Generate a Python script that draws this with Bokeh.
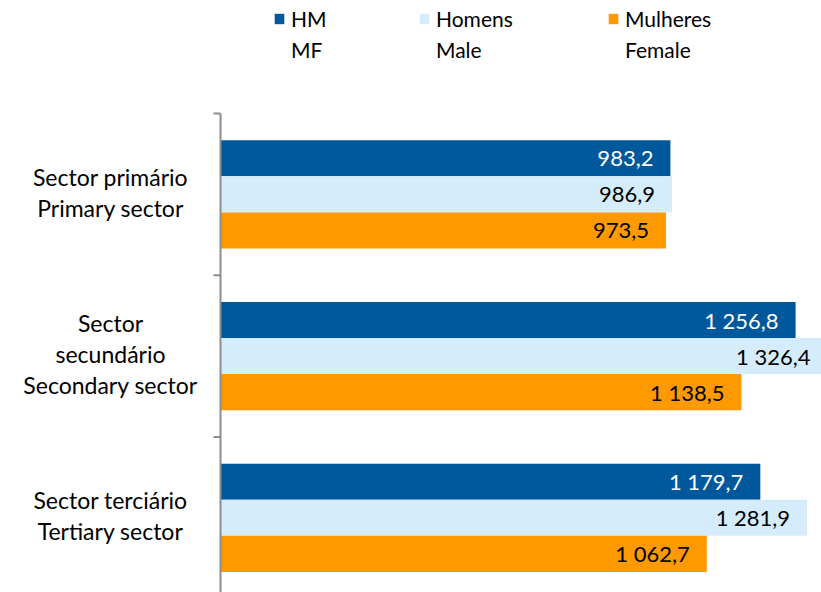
import numpy as np
from bokeh.plotting import figure
from bokeh.models import Range1d, Legend, LegendItem, ColumnDataSource
from bokeh.core.properties import value
from bokeh.embed import file_html
from bokeh.resources import INLINE

# ---- data ----
sectors = ["Sector primário\nPrimary sector",
           "Sector\nsecundário\nSecondary sector",
           "Sector terciário\nTertiary sector"]
series_pt = ["HM", "Homens", "Mulheres"]
series_en = ["MF", "Male", "Female"]
hm = [983.2, 1256.8, 1179.7]
homens = [986.9, 1326.4, 1281.9]
mulheres = [973.5, 1138.5, 1062.7]
series_values = [hm, homens, mulheres]
colors = ["#00589C", "#D5ECFC", "#FF9900"]
label_colors = ["#FFFFFF", "#000000", "#000000"]

FONT = "Lato"
BAR_H = 0.223
AXIS_COLOR = "#8C8C8C"
LEGEND_X = [273, 418, 607]   # screen position of each legend entry


def fmt(v):
    return f"{v:,.1f}".replace(",", " ").replace(".", ",")


W, H = 821, 592
p = figure(width=W, height=H, output_backend="svg", toolbar_location=None,
           x_range=Range1d(-480.8, 1313.4), y_range=Range1d(2.962, -0.699),
           x_axis_location=None, y_axis_location=None,
           min_border_left=0, min_border_right=0,
           min_border_top=0, min_border_bottom=0, outline_line_color=None,
           background_fill_color="white", border_fill_color="white")
p.xgrid.visible = False
p.ygrid.visible = False

n = len(sectors)
centers = [i + 0.5 for i in range(n)]
bounds = list(range(n + 1))

renderers = []
for j, (vals, col, lcol) in enumerate(zip(series_values, colors, label_colors)):
    ys = [c + (j - 1) * BAR_H for c in centers]
    src = ColumnDataSource(dict(y=ys, v=vals, t=[fmt(v) for v in vals]))
    r = p.hbar(y="y", left=0, right="v", height=BAR_H, source=src,
               fill_color=col, line_color=None)
    renderers.append(r)
    p.text(x="v", y="y", text="t", source=src, x_offset=-17,
           text_align="right", text_baseline="middle",
           text_font=value(FONT), text_font_size="22px", text_color=lcol)

# category axis: line at value 0, boundary ticks pointing left
p.segment(x0=[0], y0=[bounds[0]], x1=[0], y1=[bounds[-1]],
          line_color=AXIS_COLOR, line_width=2)
p.ray(x=[0] * len(bounds), y=bounds, length=7, angle=np.pi,
      length_units="screen", line_color=AXIS_COLOR, line_width=2)

# category labels
cat_src = ColumnDataSource(dict(x=[0] * n, y=centers, t=sectors))
p.text(x="x", y="y", text="t", source=cat_src, x_offset=-110, y_offset=-2,
       text_align="center", text_baseline="middle", text_line_height=1.12,
       text_font=value(FONT), text_font_size="23px", text_color="#000000")

# invisible placeholder so the English legend line has no swatch
blank = p.hbar(y=[], left=[], right=[], height=BAR_H,
               fill_alpha=0, line_alpha=0)

# legend: Portuguese line with swatch, English line below (no swatch)
for pt, en, r, lx in zip(series_pt, series_en, renderers, LEGEND_X):
    common = dict(orientation="horizontal", padding=0, margin=0,
                  glyph_width=12, glyph_height=13, label_standoff=6,
                  border_line_color=None, background_fill_alpha=0,
                  label_text_font=FONT, label_text_font_size="21px",
                  label_text_color="#000000")
    p.add_layout(Legend(items=[LegendItem(label=pt, renderers=[r])],
                        location=(lx, 561), **common), "center")
    p.add_layout(Legend(items=[LegendItem(label=en, renderers=[blank])],
                        location=(lx, 530), **common), "center")

open("out.html", "w").write(file_html(p, INLINE))
